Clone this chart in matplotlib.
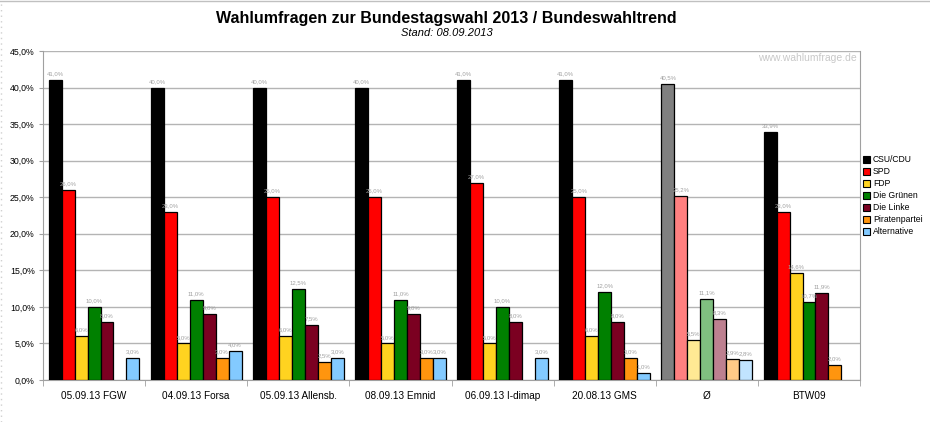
import numpy as np
import matplotlib
matplotlib.use("Agg")
import matplotlib.pyplot as plt
from matplotlib.patches import Rectangle
from matplotlib.lines import Line2D
from matplotlib.ticker import MultipleLocator, FuncFormatter

plt.rcParams['font.family'] = ['Liberation Sans', 'DejaVu Sans']

# poll groups and parties
groups = ["05.09.13 FGW", "04.09.13 Forsa", "05.09.13 Allensb.", "08.09.13 Emnid",
          "06.09.13 I-dimap", "20.08.13 GMS", "Ø", "BTW09"]
parties = ["CSU/CDU", "SPD", "FDP", "Die Grünen", "Die Linke", "Piratenpartei", "Alternative"]

# values per party (None = no value published)
cdu = [41.0, 40.0, 40.0, 40.0, 41.0, 41.0, 40.5, 33.9]
spd = [26.0, 23.0, 25.0, 25.0, 27.0, 25.0, 25.2, 23.0]
fdp = [6.0, 5.0, 6.0, 5.0, 5.0, 6.0, 5.5, 14.6]
gruene = [10.0, 11.0, 12.5, 11.0, 10.0, 12.0, 11.1, 10.7]
linke = [8.0, 9.0, 7.5, 9.0, 8.0, 8.0, 8.3, 11.9]
piraten = [None, 3.0, 2.5, 3.0, None, 3.0, 2.9, 2.0]
afd = [3.0, 4.0, 3.0, 3.0, 3.0, 1.0, 2.8, None]
series = [cdu, spd, fdp, gruene, linke, piraten, afd]

colors = ["#000000", "#FF0000", "#FFD320", "#008000", "#7B0021", "#FF950E", "#83CAFF"]
colors_avg = ["#808080", "#FF8080", "#FFE994", "#80BF80", "#BD8090", "#FFCA87", "#C1E4FF"]
avg_idx = 6

fig = plt.figure(figsize=(9.3, 4.22), dpi=100)
# thin frame lines at top and left edge of the image
fig.lines.append(Line2D([0, 1], [0.998, 0.998], transform=fig.transFigure,
                        color="#C0C0C0", linewidth=1.0))
fig.lines.append(Line2D([0.0008, 0.0008], [0, 1], transform=fig.transFigure,
                        color="#D0D0D0", linewidth=1.0, linestyle=(0, (1, 3))))
ax = fig.add_axes([0.0462, 0.0995, 0.8786, 0.7795])

n_groups = len(groups)
n_bars = len(parties)
bar_w = 0.127
x = np.arange(n_groups)

for j, vals in enumerate(series):
    for i, v in enumerate(vals):
        if v is None:
            continue
        c = colors_avg[j] if i == avg_idx else colors[j]
        xpos = x[i] + (j - (n_bars - 1) / 2) * bar_w
        ax.bar(xpos, v, width=bar_w, color=c, edgecolor="black", linewidth=0.9, zorder=3)
        ax.text(xpos, v + 0.5, f"{v:.1f}%".replace(".", ","), ha="center", va="bottom",
                fontsize=4.3, color="#A0A0A0", zorder=4)

ax.set_xlim(-0.5, n_groups - 0.5)
ax.set_ylim(0, 45)
ax.yaxis.set_major_locator(MultipleLocator(5))
ax.yaxis.set_major_formatter(FuncFormatter(lambda v, p: f"{v:.1f}%".replace(".", ",")))
ax.grid(axis="y", color="#B4B4B4", linewidth=1.0, zorder=0)
ax.set_xticks(x)
ax.set_xticklabels(groups, fontsize=7.2)
ax.set_xticks(np.arange(n_groups + 1) - 0.5, minor=True)
ax.tick_params(axis="x", which="major", length=0, pad=8)
ax.tick_params(axis="x", which="minor", length=4, color="#A0A0A0")
ax.tick_params(axis="y", labelsize=6.3, length=3, color="#A0A0A0", pad=3)
ax.spines["top"].set_visible(False)
for s in ["left", "right", "bottom"]:
    ax.spines[s].set_color("#A0A0A0")

# legend
handles = [Rectangle((0, 0), 1, 1, facecolor=c, edgecolor="black", linewidth=0.8) for c in colors]
fig.legend(handles, parties, loc="upper left", bbox_to_anchor=(0.924, 0.64), frameon=False,
           fontsize=6.2, handlelength=0.8, handleheight=0.8, handletextpad=0.4,
           labelspacing=0.35, borderaxespad=0)

fig.text(0.48, 0.955, "Wahlumfragen zur Bundestagswahl 2013 / Bundeswahltrend",
         ha="center", va="center", fontsize=11.5, fontweight="bold")
fig.text(0.48, 0.922, "Stand: 08.09.2013", ha="center", va="center",
         fontsize=8, style="italic")
fig.text(0.921, 0.862, "www.wahlumfrage.de", ha="right", va="center",
         fontsize=7.5, color="#C8C8C8")

fig.savefig("out.png", dpi=100)
